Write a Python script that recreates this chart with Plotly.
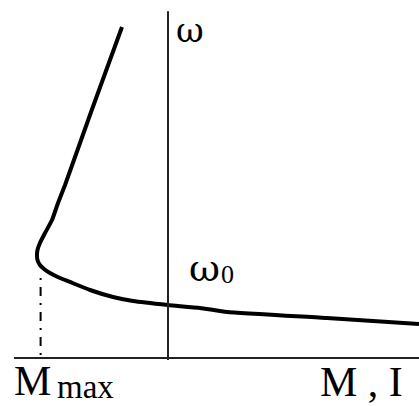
import plotly.graph_objects as go

# Mechanical characteristic omega(M): torque M in relative units (breakdown at M_max ~ -1),
# speed omega in relative units (omega_0 ~ 1 at M = 0)
torque = [-0.354, -0.592, -0.792, -0.846, -0.892, -0.946,
          -0.985, -1.004, -1.008, -1.004, -0.985, -0.954, -0.908, -0.831, -0.754, -0.600,
          -0.423, -0.269, 0.0, 0.246, 0.454, 1.223, 1.931]
speed = [6.365, 4.731, 3.327, 2.981, 2.654, 2.404,
         2.212, 2.077, 1.981, 1.885, 1.788, 1.712, 1.635, 1.538, 1.462, 1.308,
         1.173, 1.096, 1.019, 0.962, 0.885, 0.769, 0.654]

m_max = -0.98
drop_top = 1.54

x_range = [-1.2923, 1.9308]
y_range = [-0.923, 6.885]

fig = go.Figure()

# characteristic curve
fig.add_trace(go.Scatter(
    x=torque, y=speed, mode="lines",
    line=dict(color="black", width=4, shape="spline", smoothing=0.4),
    hoverinfo="skip", showlegend=False,
))

# dash-dot drop line from the breakdown point to the M axis
fig.add_trace(go.Scatter(
    x=[m_max, m_max], y=[drop_top, 0], mode="lines",
    line=dict(color="black", width=2, dash="2px,7px,9px,7px"),
    hoverinfo="skip", showlegend=False,
))

axis_color = "#222222"
fig.add_shape(type="line", xref="x", yref="y", x0=-1.185, x1=x_range[1], y0=0, y1=0,
              line=dict(color=axis_color, width=2))
fig.add_shape(type="line", xref="x", yref="y", x0=0, x1=0, y0=-0.04, y1=6.67,
              line=dict(color=axis_color, width=2))


def label(x, y, text, size, family="Liberation Serif", xanchor="center", yanchor="middle"):
    fig.add_annotation(x=x, y=y, xref="x", yref="y", text=text, showarrow=False,
                       xanchor=xanchor, yanchor=yanchor, borderpad=0,
                       font=dict(family=family, size=size, color="black"))


label(0.169, 6.30, "ω", 34, family="DejaVu Serif")
label(0.277, 1.74, "ω", 38, family="DejaVu Serif")
label(0.40, 1.615, "0", 26, xanchor="left")
label(-1.19, -0.45, "M", 42, xanchor="left")
label(-0.865, -0.55, "max", 33, xanchor="left")
label(1.49, -0.47, "M , I", 42)

fig.update_layout(
    width=419, height=406,
    margin=dict(l=0, r=0, t=0, b=0),
    paper_bgcolor="white", plot_bgcolor="white",
    xaxis=dict(range=x_range, visible=False, fixedrange=True),
    yaxis=dict(range=y_range, visible=False, fixedrange=True),
)

fig.write_html("out.html")
